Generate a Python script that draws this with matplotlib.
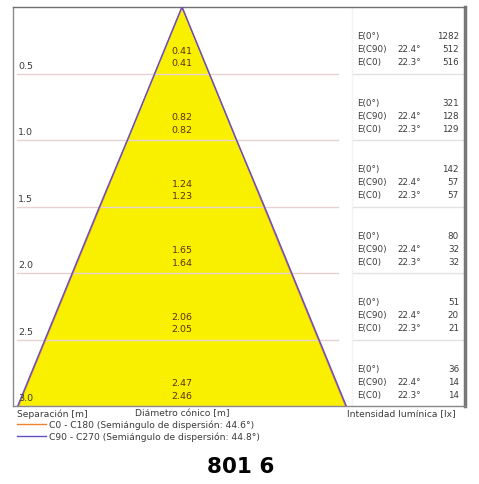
import numpy as np
import matplotlib.pyplot as plt

# separacion [m] y diametro conico [m]
dist = [0.5, 1.0, 1.5, 2.0, 2.5, 3.0]
diam_c90 = [0.41, 0.82, 1.24, 1.65, 2.06, 2.47]
diam_c0 = [0.41, 0.82, 1.23, 1.64, 2.05, 2.46]
# intensidad luminica [lx]
e_0 = [1282, 321, 142, 80, 51, 36]
e_c90 = [512, 128, 57, 32, 20, 14]
e_c0 = [516, 129, 57, 32, 21, 14]
ang_c90 = '22.4°'
ang_c0 = '22.3°'

txt = '#3a3a3a'
brown = '#5a3310'
fs = 6.3

fig = plt.figure(figsize=(4.79, 4.85), dpi=100)
# caja en pixeles: x 13..465, y 8..407
W, H = 479, 485
ax = fig.add_axes([13 / W, 1 - 407 / H, 452 / W, 399 / H])
x0, x1 = -169 / 133, 283 / 133
ax.set_xlim(x0, x1)
ax.set_ylim(3.0, 0.0)
ax.set_xticks([])
ax.set_yticks([])
for s in ax.spines.values():
    s.set_color('#8a8a8a')
    s.set_linewidth(1.0)
ax.spines['top'].set_color('#707070')
ax.spines['right'].set_linewidth(2.5)
ax.spines['right'].set_color('#777777')

d = np.array([0.0] + dist)
r90 = np.array([0.0] + diam_c90) / 2
r0 = np.array([0.0] + diam_c0) / 2
ax.fill_betweenx(d, -r90, r90, color='#f9f000', lw=0, zorder=1)

def fx(px):
    return (px - 13) / 452

for y in dist:
    ax.axhline(y, xmin=fx(17), xmax=fx(338), color='#e6d2d2', lw=1.0, zorder=2)
    ax.axhline(y, xmin=fx(353), xmax=fx(463), color='#e2e2e2', lw=1.0, zorder=2)
ax.axvline((352 - 182) / 133, color='#f4f4f4', lw=1.0, zorder=0)

ax.plot(-r0, d, color='#f08030', lw=1.0, zorder=3)
ax.plot(r0, d, color='#f08030', lw=1.0, zorder=3)
ax.plot(-r90, d, color='#6050c8', lw=1.0, zorder=4)
ax.plot(r90, d, color='#6050c8', lw=1.0, zorder=4)

xe = (357 - 182) / 133
xa = (397 - 182) / 133
xn = (459 - 182) / 133
for i, y in enumerate(dist):
    ax.text(x0 + 5 / 133, y - 0.03, f'{y:.1f}', fontsize=fs + 0.5, color=txt,
            ha='left', va='bottom', zorder=5)
    ax.text(0, y - 0.175, f'{diam_c90[i]:.2f}', fontsize=fs + 0.5, color=brown,
            ha='center', va='center', zorder=5)
    ax.text(0, y - 0.08, f'{diam_c0[i]:.2f}', fontsize=fs + 0.5, color=brown,
            ha='center', va='center', zorder=5)
    rows = [('E(0°)', '', e_0[i]), ('E(C90)', ang_c90, e_c90[i]),
            ('E(C0)', ang_c0, e_c0[i])]
    for k, (lab, ang, val) in enumerate(rows):
        yy = y - 0.088 - (2 - k) * 0.098
        ax.text(xe, yy, lab, fontsize=fs, color=txt, ha='left', va='center')
        ax.text(xa, yy, ang, fontsize=fs, color=txt, ha='left', va='center')
        ax.text(xn, yy, str(val), fontsize=fs, color=txt, ha='right', va='center')

fig.text(17 / W, 1 - 414 / H, 'Separación [m]', fontsize=fs + 0.3, color=txt,
         ha='left', va='center')
fig.text(135 / W, 1 - 414 / H, 'Diámetro cónico [m]', fontsize=fs + 0.3, color=txt,
         ha='left', va='center')
fig.text(456 / W, 1 - 414 / H, 'Intensidad lumínica [lx]', fontsize=fs + 0.3,
         color=txt, ha='right', va='center')

leg = fig.add_axes([0, 0, 1, 1], facecolor='none')
leg.set_xlim(0, W)
leg.set_ylim(H, 0)
leg.axis('off')
leg.plot([17, 46], [425, 425], color='#f08030', lw=1.0)
leg.plot([17, 46], [437, 437], color='#6050c8', lw=1.0)
leg.text(49, 425, 'C0 - C180 (Semiángulo de dispersión: 44.6°)', fontsize=fs + 0.3,
         color=txt, ha='left', va='center')
leg.text(49, 437, 'C90 - C270 (Semiángulo de dispersión: 44.8°)', fontsize=fs + 0.3,
         color=txt, ha='left', va='center')
leg.text(241, 467, '801 6', fontsize=15.5, fontweight='bold', color='black',
         ha='center', va='center')

fig.savefig('out.png', dpi=100)
